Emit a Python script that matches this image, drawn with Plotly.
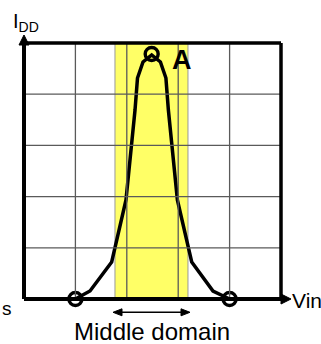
import plotly.graph_objects as go

# ---- data ----
vin = [1.0, 1.284, 1.706, 1.984, 2.160, 2.208, 2.315, 2.484, 2.654, 2.761, 2.809, 2.984, 3.263, 3.677, 4.0]
idd = [0.0, 0.156, 0.723, 1.934, 3.691, 4.316, 4.629, 4.766, 4.629, 4.316, 3.691, 1.934, 0.723, 0.156, 0.0]
marker_x = [1.0, 2.484, 4.0]
marker_y = [0.0, 4.785, 0.0]
middle_lo, middle_hi = 1.77, 3.19
grid_vals = [0, 1, 2, 3, 4, 5]

W, H = 321, 344
# axis pixel mapping: x 0..5 -> 24..281 px, y 0..5 -> 299..43 px
x0p, x5p = 24, 281
y0p, y5p = 299, 43
xu = (x5p - x0p) / 5.0
yu = (y0p - y5p) / 5.0
xr = [0 - x0p / xu, 5 + (W - x5p) / xu]
yr = [0 - (H - y0p) / yu, 5 + y5p / yu]

def px2x(p):
    return (p - x0p) / xu

def py2y(p):
    return (y0p - p) / yu

def pxp(p):
    return p / W

def pyp(p):
    return 1 - p / H

fig = go.Figure()

shapes = []
# yellow middle domain
shapes.append(dict(type="rect", xref="x", yref="y", x0=middle_lo, x1=middle_hi, y0=0, y1=5,
                   fillcolor="#FFFF66", line=dict(color="#999999", width=1), layer="below"))
# grid
for g in grid_vals[1:-1]:
    shapes.append(dict(type="line", xref="x", yref="y", x0=g, x1=g, y0=0, y1=5,
                       line=dict(color="#5a5a5a", width=1.3)))
    shapes.append(dict(type="line", xref="x", yref="y", x0=0, x1=5, y0=g, y1=g,
                       line=dict(color="#5a5a5a", width=1.3)))
# border top and right
shapes.append(dict(type="line", xref="x", yref="y", x0=0, x1=5, y0=5, y1=5, line=dict(color="black", width=3.5)))
shapes.append(dict(type="line", xref="x", yref="y", x0=5, x1=5, y0=0, y1=5, line=dict(color="black", width=3.5)))
# axes lines
shapes.append(dict(type="line", xref="x", yref="y", x0=0, x1=0, y0=0, y1=py2y(44), line=dict(color="black", width=4)))
shapes.append(dict(type="line", xref="x", yref="y", x0=0, x1=px2x(283), y0=0, y1=0, line=dict(color="black", width=4)))
# arrow heads of axes
ah, al = 5, 10
shapes.append(dict(type="path", xref="x", yref="y",
                   path=f"M {px2x(x0p-ah)} {py2y(35+al)} L {px2x(x0p)} {py2y(35)} L {px2x(x0p+ah)} {py2y(35+al)} Z",
                   fillcolor="black", line=dict(color="black", width=1)))
shapes.append(dict(type="path", xref="x", yref="y",
                   path=f"M {px2x(291-al)} {py2y(y0p-ah)} L {px2x(291)} {py2y(y0p)} L {px2x(291-al)} {py2y(y0p+ah)} Z",
                   fillcolor="black", line=dict(color="black", width=1)))
# middle-domain double arrow
ay = 312.3
la, ra = 113, 190
shapes.append(dict(type="line", xref="x", yref="y", x0=px2x(la + 4), x1=px2x(ra - 4), y0=py2y(ay), y1=py2y(ay),
                   line=dict(color="black", width=1.6)))
bh, bl = 3.5, 9
shapes.append(dict(type="path", xref="x", yref="y",
                   path=f"M {px2x(la+bl)} {py2y(ay-bh)} L {px2x(la)} {py2y(ay)} L {px2x(la+bl)} {py2y(ay+bh)} Z",
                   fillcolor="black", line=dict(color="black", width=1)))
shapes.append(dict(type="path", xref="x", yref="y",
                   path=f"M {px2x(ra-bl)} {py2y(ay-bh)} L {px2x(ra)} {py2y(ay)} L {px2x(ra-bl)} {py2y(ay+bh)} Z",
                   fillcolor="black", line=dict(color="black", width=1)))

fig.add_trace(go.Scatter(x=vin, y=idd, mode="lines", line=dict(color="black", width=3.5),
                         hoverinfo="skip", showlegend=False, cliponaxis=False))
fig.add_trace(go.Scatter(x=marker_x, y=marker_y, mode="markers",
                         marker=dict(symbol="circle-open", size=13, color="black", line=dict(width=3.4)),
                         hoverinfo="skip", showlegend=False, cliponaxis=False))

font = "Arial, Liberation Sans, sans-serif"
ann = []
ann.append(dict(x=pxp(152), y=pyp(331), xref="paper", yref="paper", text="Middle domain",
                showarrow=False, font=dict(family=font, size=24, color="black"), xanchor="center", yanchor="middle"))
ann.append(dict(x=pxp(290), y=pyp(300.5), xref="paper", yref="paper", text="Vin",
                showarrow=False, font=dict(family=font, size=21, color="black"), xanchor="left", yanchor="middle"))
ann.append(dict(x=pxp(181.7), y=pyp(60), xref="paper", yref="paper", text="<b>A</b>",
                showarrow=False, font=dict(family=font, size=27, color="black"), xanchor="center", yanchor="middle"))
ann.append(dict(x=pxp(11), y=pyp(22), xref="paper", yref="paper", text="I<sub>DD</sub>",
                showarrow=False, font=dict(family=font, size=20, color="black"), xanchor="left", yanchor="middle"))
ann.append(dict(x=pxp(0), y=pyp(308), xref="paper", yref="paper", text="s",
                showarrow=False, font=dict(family=font, size=19, color="black"), xanchor="left", yanchor="middle"))

fig.update_layout(
    width=W, height=H, margin=dict(l=0, r=0, t=0, b=0),
    paper_bgcolor="white", plot_bgcolor="white",
    xaxis=dict(range=xr, visible=False, fixedrange=True),
    yaxis=dict(range=yr, visible=False, fixedrange=True),
    shapes=shapes, annotations=ann,
)
fig.write_html("out.html", config={"displayModeBar": False},
               post_script="document.body.style.margin='0';document.body.style.overflow='hidden';")
